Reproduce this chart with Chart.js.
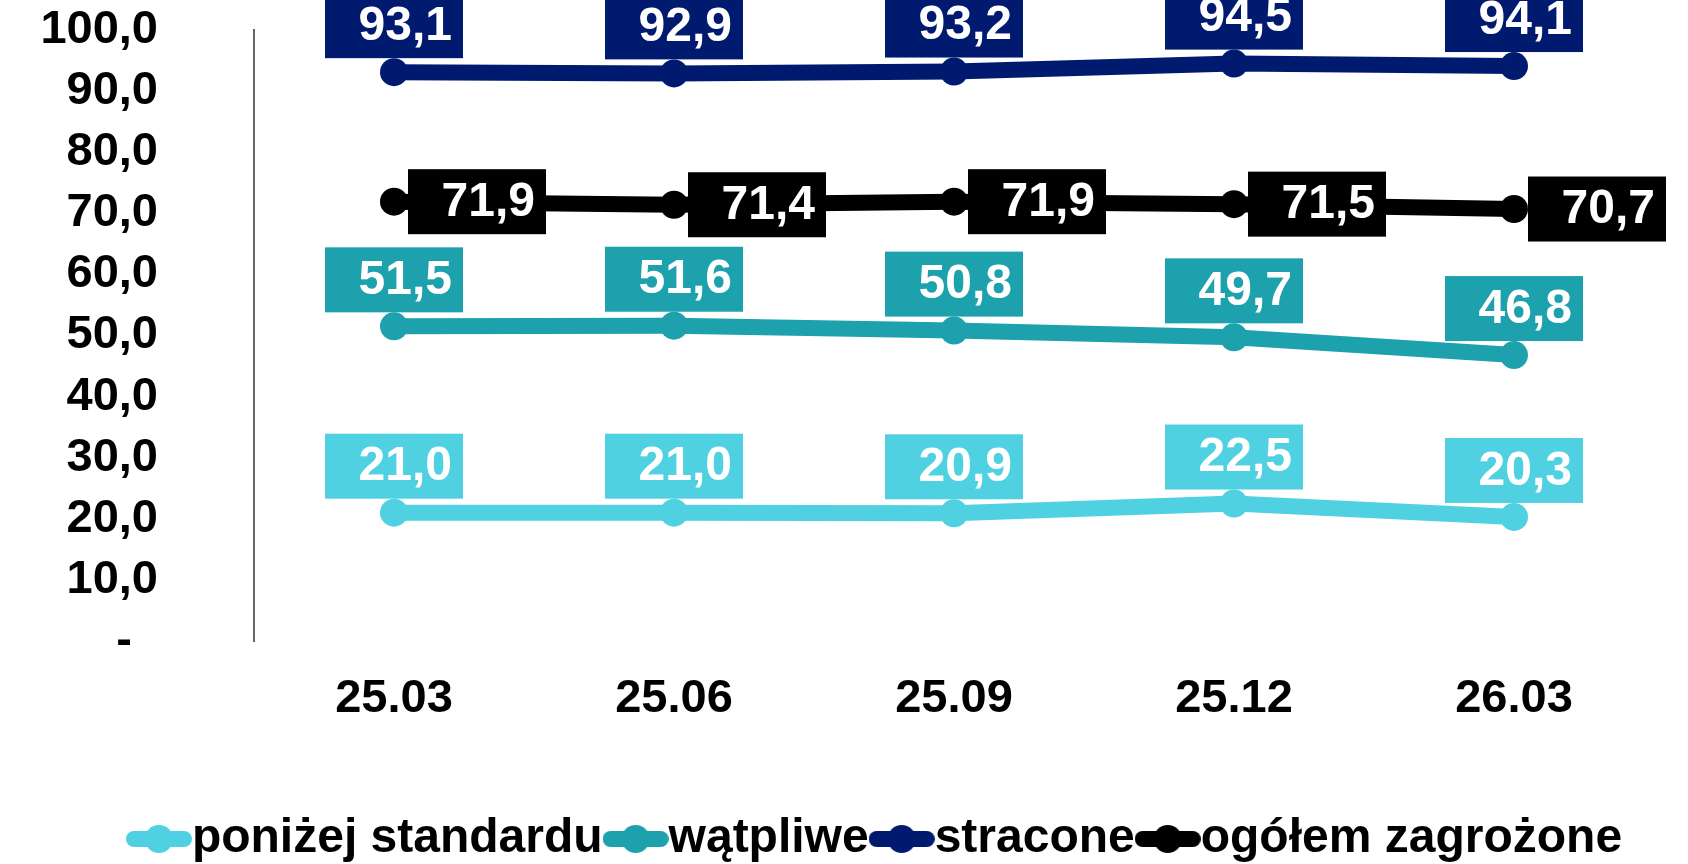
<!DOCTYPE html>
<html>
<head>
<meta charset="utf-8">
<script src="https://cdn.jsdelivr.net/npm/chart.js@4.4.1/dist/chart.umd.min.js"></script>
<style>
  html, body { margin: 0; padding: 0; background: #fff; }
  #wrap { width: 1688px; height: 864px; }
</style>
</head>
<body>
<div id="wrap"><canvas id="chart" width="1688" height="864"></canvas></div>
<script>
// values
const quarters = ["25.03", "25.06", "25.09", "25.12", "26.03"];
const ponizejStandardu = [21.0, 21.0, 20.9, 22.5, 20.3];
const watpliwe = [51.5, 51.6, 50.8, 49.7, 46.8];
const stracone = [93.1, 92.9, 93.2, 94.5, 94.1];
const ogolemZagrozone = [71.9, 71.4, 71.9, 71.5, 70.7];
const seriesNames = ["poniżej standardu", "wątpliwe", "stracone", "ogółem zagrożone"];
const seriesColors = ["#4fd1e2", "#1ca1ad", "#001a70", "#000000"];

const FONT = "'Liberation Sans', Arial, sans-serif";
const fmt = v => v.toFixed(1).replace(".", ",");

// legend symbol: short thick line with a dot in the middle
function legendSymbol(color) {
  const c = document.createElement("canvas");
  c.width = 66;
  c.height = 30;
  const g = c.getContext("2d");
  g.strokeStyle = color;
  g.lineWidth = 16;
  g.lineCap = "round";
  g.beginPath();
  g.moveTo(8, 15);
  g.lineTo(58, 15);
  g.stroke();
  g.fillStyle = color;
  g.beginPath();
  g.arc(33, 15, 14, 0, Math.PI * 2);
  g.fill();
  return c;
}
const symbols = seriesColors.map(legendSymbol);

// boxed value labels
const boxLabels = {
  id: "boxLabels",
  afterLayout(chart) {
    // legend in the original sits a bit right of the page centre
    chart.legend.left += 44;
    chart.legend.right += 44;
  },
  afterDatasetsDraw(chart) {
    const ctx = chart.ctx;
    ctx.save();
    ctx.font = "bold 48px " + FONT;
    ctx.textAlign = "right";
    ctx.textBaseline = "middle";
    chart.data.datasets.forEach((ds, di) => {
      const meta = chart.getDatasetMeta(di);
      meta.data.forEach((pt, i) => {
        const w = 138, h = 65;
        let bx, by;
        if (di === 3) {
          bx = pt.x + 14;
          by = pt.y - h / 2;
        } else {
          bx = pt.x - w / 2;
          by = pt.y - 14 - h;
        }
        ctx.fillStyle = ds.borderColor;
        ctx.fillRect(bx, by, w, h);
        ctx.fillStyle = "#ffffff";
        ctx.fillText(fmt(ds.data[i]), bx + w - 11, by + h / 2 + 1);
      });
    });
    ctx.restore();
  }
};

const allSeries = [ponizejStandardu, watpliwe, stracone, ogolemZagrozone];

new Chart(document.getElementById("chart"), {
  type: "line",
  data: {
    labels: quarters,
    datasets: allSeries.map((d, i) => ({
      label: seriesNames[i],
      data: d,
      borderColor: seriesColors[i],
      backgroundColor: seriesColors[i],
      borderWidth: 16,
      pointRadius: 14,
      pointBorderWidth: 0,
      pointBackgroundColor: seriesColors[i],
      tension: 0,
      fill: false
    }))
  },
  options: {
    responsive: false,
    animation: false,
    layout: { padding: { left: 30, right: 34, top: 30, bottom: 0 } },
    plugins: {
      tooltip: { enabled: false },
      legend: {
        position: "bottom",
        maxHeight: 73,
        labels: {
          usePointStyle: true,
          pointStyleWidth: 18,
          padding: 24,
          color: "#000",
          font: { family: FONT, size: 48, weight: "bold" },
          generateLabels(chart) {
            const items = Chart.defaults.plugins.legend.labels.generateLabels(chart);
            items.forEach((it, i) => { it.pointStyle = symbols[i]; });
            return items;
          }
        }
      }
    },
    scales: {
      x: {
        offset: true,
        grid: { display: false, drawTicks: false },
        border: { display: false },
        ticks: {
          color: "#000",
          padding: 30,
          font: { family: FONT, size: 47, weight: "bold" }
        },
        afterFit(scale) { scale.height = 150; }
      },
      y: {
        min: 0,
        max: 100,
        grid: { display: false, drawTicks: false },
        border: { display: true, color: "#666666", width: 2 },
        ticks: {
          stepSize: 10,
          autoSkip: false,
          padding: 96,
          color: "#000",
          font: { family: FONT, size: 47, weight: "bold" },
          callback: v => (v === 0 ? "-  " : fmt(v))
        },
        afterFit(scale) {
          scale.width = 224;
          scale.paddingTop = 0;
          scale.paddingBottom = 0;
        }
      }
    }
  },
  plugins: [boxLabels]
});
</script>
</body>
</html>
